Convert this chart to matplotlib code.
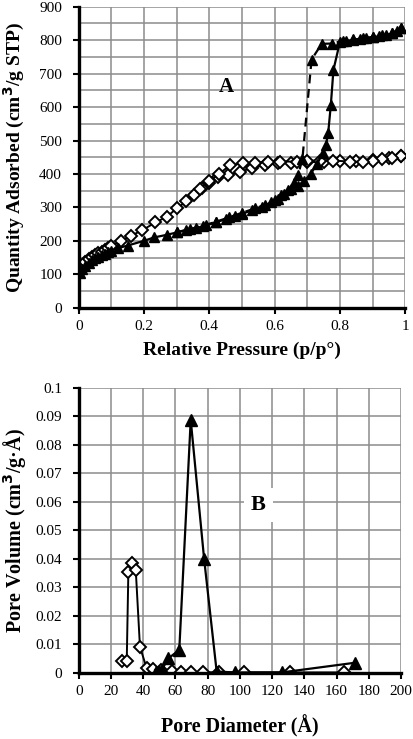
import numpy as np
import matplotlib.pyplot as plt
from matplotlib.ticker import MultipleLocator, FuncFormatter

plt.rcParams['font.family'] = ['Liberation Serif', 'DejaVu Serif']

# panel A: isotherms (relative pressure, quantity adsorbed)
tri_ads_p = [0.005, 0.01, 0.02, 0.03, 0.04, 0.05, 0.06, 0.07, 0.08, 0.09, 0.1, 0.12, 0.15,
             0.2, 0.23, 0.27, 0.3, 0.33, 0.36, 0.39, 0.42, 0.45, 0.48, 0.5, 0.53, 0.56, 0.59,
             0.61, 0.63, 0.65, 0.67, 0.69, 0.71, 0.73, 0.747, 0.757, 0.764, 0.772, 0.78, 0.80,
             0.82, 0.84, 0.86, 0.88, 0.9, 0.92, 0.94, 0.96, 0.975, 0.988]
tri_ads_q = [105, 115, 125, 135, 142, 148, 153, 158, 162, 166, 170, 178, 186,
             200, 210, 218, 225, 232, 238, 246, 255, 265, 275, 280, 292, 302, 315,
             325, 340, 355, 365, 378, 400, 430, 462, 486, 523, 606, 711, 795,
             798, 800, 803, 806, 808, 812, 815, 820, 826, 836]
tri_des_p = [0.988, 0.96, 0.93, 0.9, 0.87, 0.84, 0.81, 0.775, 0.744, 0.713, 0.685, 0.672,
             0.66, 0.64, 0.62, 0.6, 0.57, 0.54, 0.5, 0.46, 0.42, 0.38, 0.34, 0.3]
tri_des_q = [836, 822, 815, 810, 805, 802, 798, 790, 789, 742, 445, 397,
             372, 352, 338, 322, 308, 297, 284, 270, 257, 245, 235, 226]
dia_ads_p = [0.005, 0.01, 0.015, 0.02, 0.03, 0.04, 0.05, 0.06, 0.07, 0.08, 0.09, 0.1, 0.13,
             0.16, 0.195, 0.235, 0.27, 0.3, 0.33, 0.352, 0.377, 0.40, 0.427, 0.458, 0.494, 0.53,
             0.57, 0.61, 0.65, 0.7, 0.75, 0.8, 0.85, 0.9, 0.95, 0.988]
dia_ads_q = [108, 120, 130, 137, 145, 152, 158, 163, 168, 173, 178, 185, 200,
             215, 232, 255, 272, 297, 318, 337, 357, 374, 390, 397, 407, 417,
             427, 432, 434, 435, 437, 438, 440, 442, 447, 455]
dia_des_p = [0.988, 0.96, 0.93, 0.9, 0.87, 0.83, 0.78, 0.74, 0.7, 0.667, 0.616, 0.58,
             0.54, 0.504, 0.463, 0.43, 0.40, 0.37]
dia_des_q = [455, 448, 444, 438, 436, 437, 440, 440, 440, 437, 437, 436,
             434, 432, 426, 400, 378, 356]

# panel B: pore size distributions (diameter, pore volume)
tri_d = [47.8, 49.6, 51.5, 55.6, 62.4, 69.5, 77.8, 85.6, 97.0, 126.0, 171.5]
tri_v = [0.0003, 0.0006, 0.001, 0.005, 0.008, 0.0887, 0.040, 0.0004, 0.0001, 0.0001, 0.0035]
dia_d = [27.1, 29.8, 30.8, 32.9, 35.4, 38.0, 42.2, 46.0, 51.0, 57.7, 63.5, 69.7, 77.3,
         87.0, 102.8, 131.1, 164.6]
dia_v = [0.0042, 0.0040, 0.0352, 0.0384, 0.036, 0.0091, 0.0015, 0.0012, 0.0008, 0.0006,
         0.0004, 0.0003, 0.0002, 0.0001, 0.0001, 0.0001, 0.0001]

GRID = dict(color='#8c8c8c', lw=1.1, zorder=0.5)


def tri_style(size):
    return dict(color='black', marker='^', markersize=size, markerfacecolor='black', lw=1.6)


def dia_style(size):
    return dict(color='black', marker='D', markersize=size, markerfacecolor='white',
                markeredgewidth=1.4, lw=1.4)


def style_axes(ax):
    for side in ['top', 'right']:
        ax.spines[side].set_visible(False)
    for side in ['left', 'bottom']:
        ax.spines[side].set_linewidth(2.4)
        ax.spines[side].set_zorder(5)
    ax.tick_params(which='major', direction='out', length=4, width=1.5, labelsize=11)
    ax.tick_params(axis='x', which='major', pad=5)
    ax.tick_params(axis='y', which='major', pad=8)
    ax.grid(True, color=GRID['color'], lw=GRID['lw'])
    ax.set_axisbelow(True)


fig = plt.figure(figsize=(4.13, 7.39), dpi=100)

ax1 = fig.add_axes([0.1906, 0.5836, 0.7907, 0.4073])
ax1.plot(dia_ads_p, dia_ads_q, zorder=3, **dia_style(5.8))
ax1.plot(dia_des_p, dia_des_q, zorder=3, **dia_style(5.8))
ax1.plot(tri_ads_p, tri_ads_q, zorder=4, **tri_style(6.5))
ax1.plot(tri_des_p, tri_des_q, zorder=4, ls=(0, (4, 2.5)), **tri_style(6.5))
ax1.set_xlim(0, 1)
ax1.set_ylim(0, 900)
ax1.xaxis.set_major_locator(MultipleLocator(0.2))
ax1.yaxis.set_major_locator(MultipleLocator(100))
ax1.xaxis.set_major_formatter(FuncFormatter(lambda v, p: '%g' % round(v, 2)))
style_axes(ax1)
# in-between grid lines (every 0.1 and every 50)
for v in np.arange(0.1, 1.0, 0.2):
    ax1.axvline(v, **GRID)
for v in np.arange(50, 900, 100):
    ax1.axhline(v, **GRID)
ax1.set_xlabel('Relative Pressure (p/p°)', fontsize=14, fontweight='bold', labelpad=6)
ax1.set_ylabel('Quantity Adsorbed (cm$^{\\mathbf{3}}$/g STP)', fontsize=14,
               fontweight='bold', labelpad=9)
ax1.text(0.453, 660, 'A', fontsize=15, fontweight='bold', ha='center', va='center')

ax2 = fig.add_axes([0.1906, 0.0897, 0.7804, 0.3857])
ax2.plot(dia_d, dia_v, zorder=3, **dia_style(6.5))
ax2.plot(tri_d, tri_v, zorder=4, **tri_style(8.5))
ax2.set_xlim(0, 200)
ax2.set_ylim(0, 0.1)
ax2.xaxis.set_major_locator(MultipleLocator(20))
ax2.yaxis.set_major_locator(MultipleLocator(0.01))
ax2.yaxis.set_major_formatter(FuncFormatter(lambda v, p: '%g' % round(v, 3)))
style_axes(ax2)
ax2.set_xlabel('Pore Diameter (Å)', fontsize=14.5, fontweight='bold', labelpad=12)
ax2.set_ylabel('Pore Volume (cm$^{\\mathbf{3}}$/g·Å)', fontsize=14.5, fontweight='bold',
               labelpad=5)
ax2.text(111.5, 0.0588, 'B', fontsize=16, fontweight='bold', ha='center', va='center',
         bbox=dict(facecolor='white', edgecolor='none', pad=5))

fig.savefig('out.png', dpi=100)
